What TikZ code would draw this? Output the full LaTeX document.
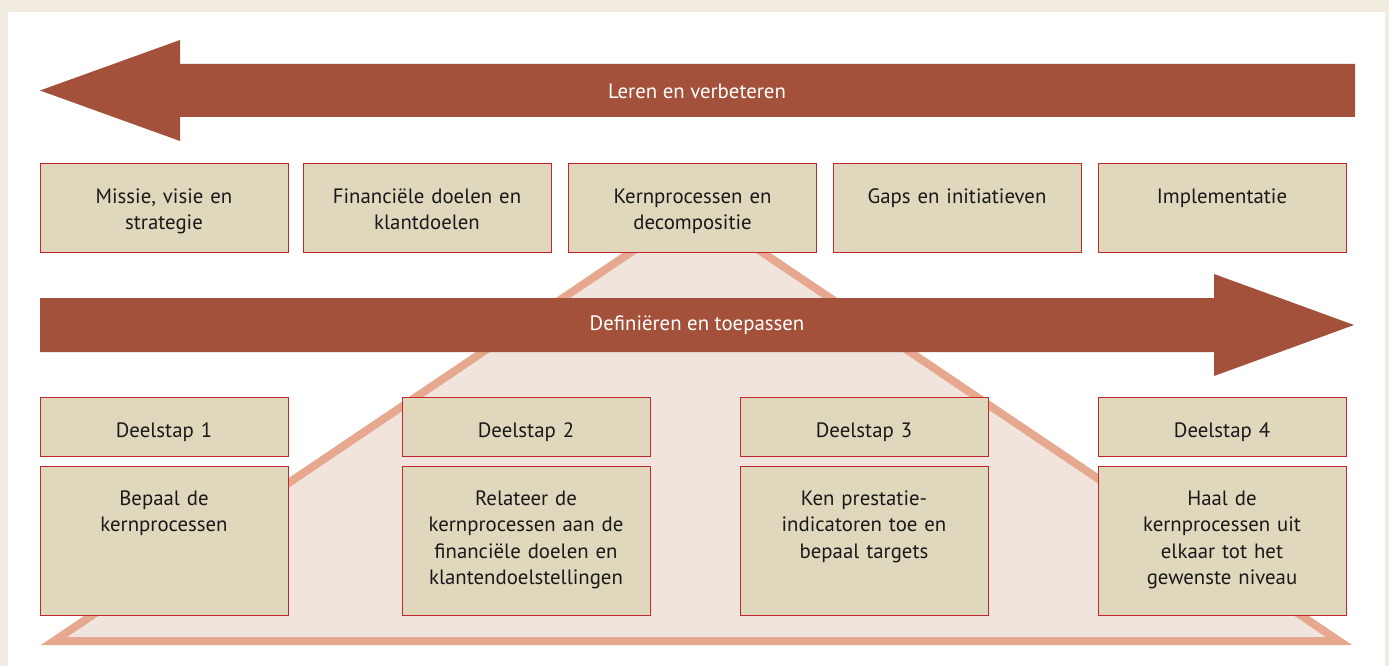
\documentclass[tikz,border=0pt]{standalone}
\usepackage{fontspec}
\setmainfont{PT Sans}
\definecolor{pagebg}{HTML}{F2EBDF}
\definecolor{pijl}{HTML}{A3513B}
\definecolor{vak}{HTML}{DFD8BD}
\definecolor{rand}{HTML}{C1272D}
\definecolor{driehoek}{HTML}{F0E4DC}
\definecolor{driehoekrand}{HTML}{E6A98F}
\begin{document}
\begin{tikzpicture}[x=1pt,y=-1pt,
  every node/.style={font=\fontsize{20.8}{26.5}\selectfont},
  vakje/.style={draw=rand,line width=1pt,fill=vak,text=black!90,inner sep=0pt,
    minimum width=248pt,text width=240pt,align=center},
  bovenvak/.style={vakje,text height=40pt,text depth=49pt},
  kopvak/.style={vakje,text height=40pt,text depth=19pt},
  inhoudvak/.style={vakje,text height=39pt,text depth=110pt},
  pijltekst/.style={text=white}]
\useasboundingbox (0,0) rectangle (1389,666);
\fill[pagebg] (0,0) rectangle (1389,666);
\fill[white] (8,12) rectangle (1385,666);

%driehoek achter alles
\filldraw[draw=driehoekrand,fill=driehoek,line width=8pt] (696.5,208) -- (54,641) -- (1339,641) -- cycle;

%pijl boven
\fill[pijl] (40,90.5) -- (180,40) -- (180,64) -- (1355,64) -- (1355,117) -- (180,117) -- (180,141) -- cycle;
\node[pijltekst] (leren) at (697,91) {Leren en verbeteren};

%pijl midden
\fill[pijl] (40,298) -- (1214,298) -- (1214,274) -- (1354,325) -- (1214,376) -- (1214,352) -- (40,352) -- cycle;
\node[pijltekst] (definieren) at (697,325) {Definiëren en toepassen};

%bovenste rij
\node[bovenvak] (missie) at (164,207.5) {Missie, visie en\\strategie};
\node[bovenvak] (doelen) at (427,207.5) {Financiële doelen en\\klantdoelen};
\node[bovenvak] (kern) at (692.5,207.5) {Kernprocessen en\\decompositie};
\node[bovenvak] (gaps) at (957,207.5) {Gaps en initiatieven};
\node[bovenvak] (impl) at (1222,207.5) {Implementatie};

%deelstappen
\node[kopvak] (kop1) at (164,426.5) {Deelstap 1};
\node[kopvak] (kop2) at (526,426.5) {Deelstap 2};
\node[kopvak] (kop3) at (864,426.5) {Deelstap 3};
\node[kopvak] (kop4) at (1222,426.5) {Deelstap 4};

\node[inhoudvak] (stap1) at (164,540.5) {Bepaal de\\kernprocessen};
\node[inhoudvak] (stap2) at (526,540.5) {Relateer de\\kernprocessen aan de\\financiële doelen en\\klantendoelstellingen};
\node[inhoudvak] (stap3) at (864,540.5) {Ken prestatie-\\indicatoren toe en\\bepaal targets};
\node[inhoudvak] (stap4) at (1222,540.5) {Haal de\\kernprocessen uit\\elkaar tot het\\gewenste niveau};
\end{tikzpicture}
\end{document}
